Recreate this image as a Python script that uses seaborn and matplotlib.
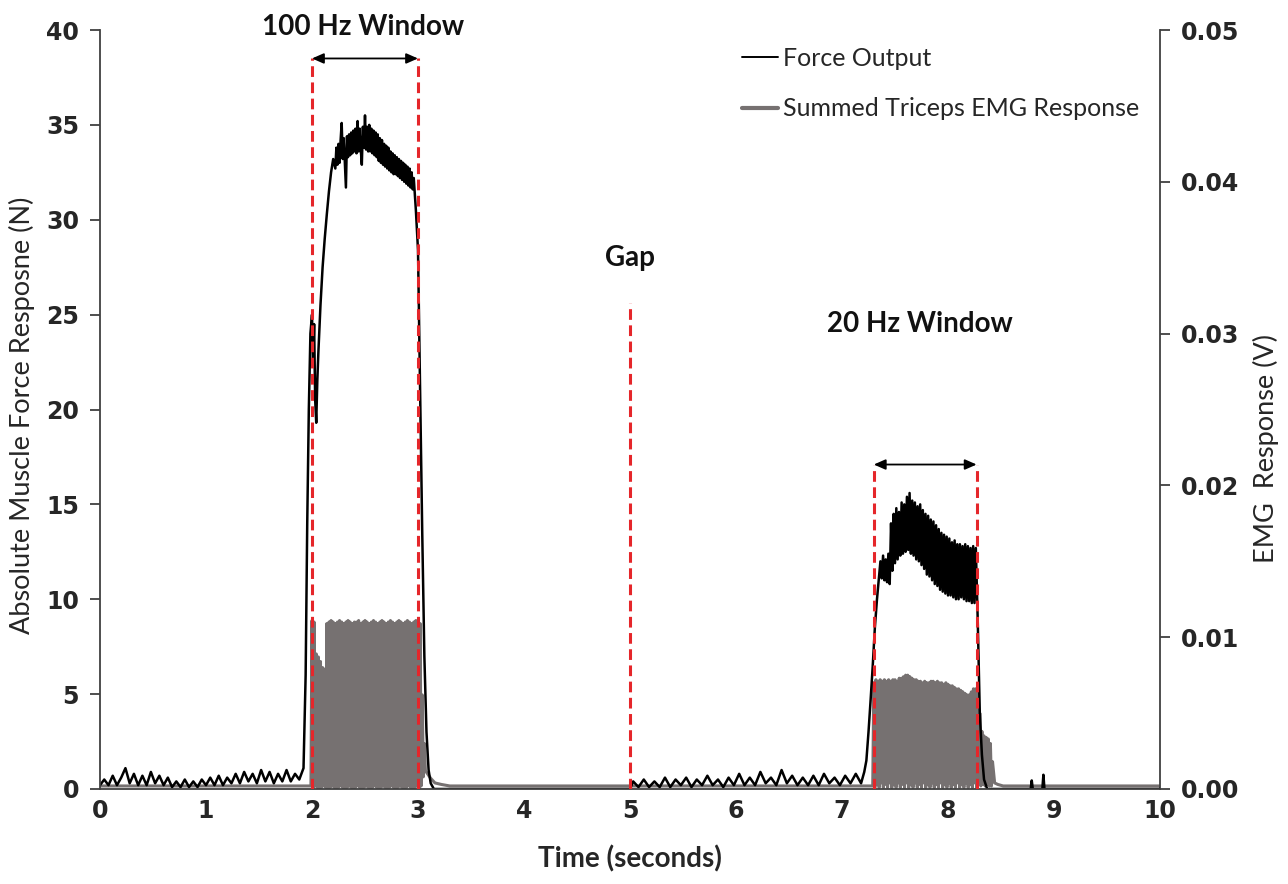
import matplotlib
matplotlib.use("Agg")
import matplotlib.pyplot as plt
import seaborn as sns
import pandas as pd
from matplotlib.lines import Line2D

# ------------------------------------------------------------------ data
# Force output (N) - rest before stimulation
force_t_rest1 = [0.00, 0.04, 0.08, 0.12, 0.16, 0.20, 0.24, 0.28, 0.32, 0.36,
                 0.40, 0.44, 0.48, 0.52, 0.56, 0.60, 0.64, 0.68, 0.72, 0.76,
                 0.80, 0.84, 0.88, 0.92, 0.96, 1.00, 1.04, 1.08, 1.12, 1.16,
                 1.20, 1.24, 1.28, 1.32, 1.36, 1.40, 1.44, 1.48, 1.52, 1.56,
                 1.60, 1.64, 1.68, 1.72, 1.76, 1.80, 1.84, 1.88, 1.92]
force_n_rest1 = [0.2, 0.5, 0.2, 0.7, 0.2, 0.6, 1.1, 0.3, 0.8, 0.2,
                 0.7, 0.2, 0.9, 0.3, 0.7, 0.2, 0.6, 0.1, 0.4, 0.1,
                 0.5, 0.1, 0.4, 0.1, 0.5, 0.2, 0.6, 0.2, 0.7, 0.2,
                 0.6, 0.3, 0.8, 0.3, 0.9, 0.4, 0.8, 0.3, 1.0, 0.4,
                 0.9, 0.3, 0.8, 0.4, 1.0, 0.4, 0.8, 0.5, 1.1]
# 100 Hz window: onset
force_t_100_on = [1.94, 1.955, 1.97, 1.985, 2.00, 2.01, 2.02, 2.03, 2.04, 2.05,
                  2.06, 2.08, 2.10, 2.12, 2.14, 2.16, 2.18, 2.20]
force_n_100_on = [6.0, 14.0, 20.0, 24.0, 25.0, 22.5, 24.5, 20.5, 19.3, 21.5,
                  23.0, 25.5, 27.5, 29.0, 30.3, 31.5, 32.5, 33.2]
# 100 Hz window: plateau
force_t_100 = [2.22, 2.23, 2.24, 2.25, 2.26, 2.27, 2.28, 2.29, 2.30, 2.31,
               2.32, 2.33, 2.34, 2.35, 2.36, 2.37, 2.38, 2.39, 2.40, 2.41,
               2.42, 2.43, 2.44, 2.45, 2.46, 2.47, 2.48, 2.49, 2.50, 2.51,
               2.52, 2.53, 2.54, 2.55, 2.56, 2.57, 2.58, 2.59, 2.60, 2.61,
               2.62, 2.63, 2.64, 2.65, 2.66, 2.67, 2.68, 2.69, 2.70, 2.71,
               2.72, 2.73, 2.74, 2.75, 2.76, 2.77, 2.78, 2.79, 2.80, 2.81,
               2.82, 2.83, 2.84, 2.85, 2.86, 2.87, 2.88, 2.89, 2.90, 2.91,
               2.92, 2.93, 2.94, 2.95, 2.96]
force_n_100 = [32.7, 33.8, 32.9, 34.0, 33.0, 34.2, 35.1, 33.2, 34.3, 33.0,
               31.7, 34.4, 33.3, 34.5, 33.4, 34.6, 33.5, 34.7, 33.6, 34.8,
               33.5, 35.2, 33.6, 34.8, 33.7, 32.9, 34.9, 33.8, 35.5, 33.7,
               34.9, 33.6, 35.0, 33.6, 34.8, 33.5, 34.7, 33.4, 34.6, 33.3,
               34.5, 33.1, 34.3, 33.0, 34.2, 32.9, 34.0, 32.8, 33.9, 32.7,
               33.8, 32.6, 33.6, 32.5, 33.5, 32.4, 33.4, 32.4, 33.3, 32.3,
               33.2, 32.2, 33.1, 32.1, 33.0, 32.0, 32.9, 31.9, 32.8, 31.8,
               32.7, 31.7, 32.5, 31.6, 32.2]
# 100 Hz window: offset
force_t_100_off = [2.98, 3.00, 3.02, 3.04, 3.06, 3.08, 3.10, 3.12, 3.15]
force_n_100_off = [30.5, 28.4, 21.0, 13.5, 7.0, 3.0, 1.0, 0.3, 0.0]
# gap and rest before the 20 Hz window
force_t_rest2 = [5.00, 5.03, 5.08, 5.13, 5.18, 5.23, 5.28, 5.33, 5.38, 5.43,
                 5.48, 5.53, 5.58, 5.63, 5.68, 5.73, 5.78, 5.83, 5.88, 5.93,
                 5.98, 6.03, 6.08, 6.13, 6.18, 6.23, 6.28, 6.33, 6.38, 6.43,
                 6.48, 6.53, 6.58, 6.63, 6.68, 6.73, 6.78, 6.83, 6.88, 6.93,
                 6.98, 7.03, 7.08, 7.13, 7.18, 7.21]
force_n_rest2 = [0.0, 0.4, 0.1, 0.5, 0.1, 0.4, 0.1, 0.6, 0.1, 0.5,
                 0.2, 0.6, 0.1, 0.5, 0.2, 0.7, 0.2, 0.5, 0.1, 0.6,
                 0.2, 0.8, 0.2, 0.6, 0.2, 0.9, 0.3, 0.6, 0.2, 1.0,
                 0.3, 0.7, 0.2, 0.6, 0.2, 0.7, 0.2, 0.8, 0.3, 0.6,
                 0.2, 0.7, 0.3, 0.8, 0.3, 0.9]
# 20 Hz window: onset
force_t_20_on = [7.23, 7.25, 7.27, 7.29, 7.31, 7.33]
force_n_20_on = [1.5, 3.0, 4.7, 6.5, 8.5, 10.0]
# 20 Hz window: oscillating plateau
force_t_20 = [7.3500, 7.3625, 7.3750, 7.3875, 7.4000, 7.4125, 7.4250, 7.4375, 7.4500, 7.4625,
              7.4750, 7.4875, 7.5000, 7.5125, 7.5250, 7.5375, 7.5500, 7.5625, 7.5750, 7.5875,
              7.6000, 7.6125, 7.6250, 7.6375, 7.6500, 7.6625, 7.6750, 7.6875, 7.7000, 7.7125,
              7.7250, 7.7375, 7.7500, 7.7625, 7.7750, 7.7875, 7.8000, 7.8125, 7.8250, 7.8375,
              7.8500, 7.8625, 7.8750, 7.8875, 7.9000, 7.9125, 7.9250, 7.9375, 7.9500, 7.9625,
              7.9750, 7.9875, 8.0000, 8.0125, 8.0250, 8.0375, 8.0500, 8.0625, 8.0750, 8.0875,
              8.1000, 8.1125, 8.1250, 8.1375, 8.1500, 8.1625, 8.1750, 8.1875, 8.2000, 8.2125,
              8.2250, 8.2375, 8.2500, 8.2625]
force_n_20 = [11.2, 12.0, 11.1, 12.3, 11.0, 12.1, 10.9, 12.4, 10.8, 14.0,
              11.5, 14.5, 11.9, 14.8, 12.1, 14.6, 12.3, 15.1, 12.4, 15.0,
              12.5, 15.4, 12.6, 15.6, 12.4, 15.2, 12.3, 15.1, 12.1, 14.9,
              12.0, 15.0, 11.8, 14.7, 11.6, 14.5, 11.3, 14.4, 11.2, 14.2,
              11.0, 14.1, 10.8, 13.9, 10.7, 13.7, 10.5, 13.5, 10.4, 13.4,
              10.3, 13.3, 10.2, 13.2, 10.2, 13.0, 10.1, 13.1, 10.0, 12.9,
              10.0, 12.9, 10.1, 12.8, 10.0, 12.9, 9.9, 12.8, 9.9, 12.7,
              9.8, 12.8, 9.8, 12.7]
# 20 Hz window: offset
force_t_20_off = [8.28, 8.29, 8.30, 8.32, 8.34, 8.37]
force_n_20_off = [9.0, 6.5, 4.0, 1.8, 0.5, 0.0]
# rest after stimulation
force_t_rest3 = [8.78, 8.79, 8.80, 8.89, 8.90, 8.91, 10.0]
force_n_rest3 = [0.0, 0.45, 0.0, 0.0, 0.75, 0.0, 0.0]

# Summed triceps EMG (V)
emg_t_rest = [0.00, 1.99, 3.05, 3.07, 3.09, 3.12, 3.16, 3.22, 3.30, 7.29,
              8.44, 8.47, 8.52, 10.0]
emg_v_rest = [0.0002, 0.0002, 0.0008, 0.0012, 0.0010, 0.0007, 0.0004, 0.0003, 0.0002, 0.0002,
              0.0004, 0.0003, 0.0002, 0.0002]
emg_t_100_peak = [2.00, 2.02, 2.04, 2.06, 2.08, 2.10, 2.12, 2.14, 2.16, 2.18,
                  2.20, 2.22, 2.24, 2.26, 2.28, 2.30, 2.32, 2.34, 2.36, 2.38,
                  2.40, 2.42, 2.44, 2.46, 2.48, 2.50, 2.52, 2.54, 2.56, 2.58,
                  2.60, 2.62, 2.64, 2.66, 2.68, 2.70, 2.72, 2.74, 2.76, 2.78,
                  2.80, 2.82, 2.84, 2.86, 2.88, 2.90, 2.92, 2.94, 2.96, 2.98,
                  3.00, 3.02, 3.04, 3.06]
emg_v_100_peak = [0.0111, 0.0110, 0.0089, 0.0087, 0.0084, 0.0080, 0.0079, 0.0109, 0.0110, 0.0111,
                  0.0110, 0.0109, 0.0110, 0.0111, 0.0110, 0.0109, 0.0110, 0.0111, 0.0110, 0.0109,
                  0.0110, 0.0110, 0.0111, 0.0109, 0.0110, 0.0111, 0.0110, 0.0109, 0.0110, 0.0111,
                  0.0110, 0.0109, 0.0110, 0.0111, 0.0110, 0.0109, 0.0110, 0.0111, 0.0110, 0.0109,
                  0.0110, 0.0111, 0.0110, 0.0109, 0.0110, 0.0111, 0.0110, 0.0109, 0.0110, 0.0111,
                  0.0110, 0.0109, 0.0062, 0.0030]
emg_t_100_low = [2.01, 2.03, 2.05, 2.07, 2.09, 2.11, 2.13, 2.15, 2.17, 2.19,
                 2.21, 2.23, 2.25, 2.27, 2.29, 2.31, 2.33, 2.35, 2.37, 2.39,
                 2.41, 2.43, 2.45, 2.47, 2.49, 2.51, 2.53, 2.55, 2.57, 2.59,
                 2.61, 2.63, 2.65, 2.67, 2.69, 2.71, 2.73, 2.75, 2.77, 2.79,
                 2.81, 2.83, 2.85, 2.87, 2.89, 2.91, 2.93, 2.95, 2.97, 2.99,
                 3.01, 3.03]
emg_v_100_low = [0.0001, 0.0002, 0.0001, 0.0000, 0.0001, 0.0002, 0.0001, 0.0000, 0.0001, 0.0002,
                 0.0001, 0.0000, 0.0001, 0.0002, 0.0001, 0.0000, 0.0001, 0.0002, 0.0001, 0.0000,
                 0.0001, 0.0002, 0.0001, 0.0000, 0.0001, 0.0002, 0.0001, 0.0000, 0.0001, 0.0002,
                 0.0001, 0.0000, 0.0001, 0.0002, 0.0001, 0.0000, 0.0001, 0.0002, 0.0001, 0.0000,
                 0.0001, 0.0002, 0.0001, 0.0000, 0.0001, 0.0002, 0.0001, 0.0000, 0.0001, 0.0002,
                 0.0001, 0.0002]
emg_t_20_peak = [7.30, 7.32, 7.34, 7.36, 7.38, 7.40, 7.42, 7.44, 7.46, 7.48,
                 7.50, 7.52, 7.54, 7.56, 7.58, 7.60, 7.62, 7.64, 7.66, 7.68,
                 7.70, 7.72, 7.74, 7.76, 7.78, 7.80, 7.82, 7.84, 7.86, 7.88,
                 7.90, 7.92, 7.94, 7.96, 7.98, 8.00, 8.02, 8.04, 8.06, 8.08,
                 8.10, 8.12, 8.14, 8.16, 8.18, 8.20, 8.22, 8.24, 8.26, 8.28,
                 8.30, 8.32, 8.34, 8.36, 8.38, 8.40, 8.42]
emg_v_20_peak = [0.0070, 0.0072, 0.0071, 0.0072, 0.0071, 0.0072, 0.0071, 0.0072, 0.0071, 0.0072,
                 0.0072, 0.0071, 0.0073, 0.0073, 0.0074, 0.0075, 0.0075, 0.0074, 0.0073, 0.0072,
                 0.0072, 0.0071, 0.0071, 0.0070, 0.0071, 0.0070, 0.0070, 0.0071, 0.0071, 0.0070,
                 0.0071, 0.0070, 0.0070, 0.0069, 0.0070, 0.0069, 0.0068, 0.0068, 0.0067, 0.0066,
                 0.0066, 0.0065, 0.0064, 0.0063, 0.0062, 0.0062, 0.0064, 0.0066, 0.0066, 0.0064,
                 0.0050, 0.0038, 0.0035, 0.0034, 0.0033, 0.0030, 0.0018]
emg_t_20_low = [7.31, 7.33, 7.35, 7.37, 7.39, 7.41, 7.43, 7.45, 7.47, 7.49,
                7.51, 7.53, 7.55, 7.57, 7.59, 7.61, 7.63, 7.65, 7.67, 7.69,
                7.71, 7.73, 7.75, 7.77, 7.79, 7.81, 7.83, 7.85, 7.87, 7.89,
                7.91, 7.93, 7.95, 7.97, 7.99, 8.01, 8.03, 8.05, 8.07, 8.09,
                8.11, 8.13, 8.15, 8.17, 8.19, 8.21, 8.23, 8.25, 8.27, 8.29,
                8.31, 8.33, 8.35, 8.37, 8.39, 8.41]
emg_v_20_low = [0.0001, 0.0003, 0.0001, 0.0004, 0.0001, 0.0003, 0.0001, 0.0004, 0.0001, 0.0003,
                0.0001, 0.0004, 0.0001, 0.0003, 0.0001, 0.0004, 0.0001, 0.0003, 0.0001, 0.0004,
                0.0001, 0.0003, 0.0001, 0.0004, 0.0001, 0.0003, 0.0001, 0.0004, 0.0001, 0.0003,
                0.0001, 0.0004, 0.0001, 0.0003, 0.0001, 0.0004, 0.0001, 0.0003, 0.0001, 0.0004,
                0.0001, 0.0003, 0.0001, 0.0004, 0.0001, 0.0003, 0.0001, 0.0004, 0.0001, 0.0003,
                0.0002, 0.0003, 0.0002, 0.0003, 0.0002, 0.0002]

# stimulation windows / annotation anchors
window_100hz = [2.0, 3.0]
window_20hz = [7.3, 8.27]
gap_time = 5.0
x_ticks = [0, 1, 2, 3, 4, 5, 6, 7, 8, 9, 10]
force_ticks = [0, 5, 10, 15, 20, 25, 30, 35, 40]
emg_ticks = [0.00, 0.01, 0.02, 0.03, 0.04, 0.05]

# ------------------------------------------------------------------ frames
force_df = pd.DataFrame({
    "time": (force_t_rest1 + force_t_100_on + force_t_100 + force_t_100_off
             + force_t_rest2 + force_t_20_on + force_t_20 + force_t_20_off + force_t_rest3),
    "force": (force_n_rest1 + force_n_100_on + force_n_100 + force_n_100_off
              + force_n_rest2 + force_n_20_on + force_n_20 + force_n_20_off + force_n_rest3),
}).sort_values("time")
emg_df = pd.DataFrame({
    "time": emg_t_rest + emg_t_100_peak + emg_t_100_low + emg_t_20_peak + emg_t_20_low,
    "emg": emg_v_rest + emg_v_100_peak + emg_v_100_low + emg_v_20_peak + emg_v_20_low,
}).sort_values("time")

# ------------------------------------------------------------------ style
sns.set_theme(style="ticks")
plt.rcParams["font.family"] = ["Lato", "DejaVu Sans"]

BLACK = "#000000"
GREY = "#767171"
RED = "#e5262a"
SPINE = "#404040"
TXT = "#262626"

fig = plt.figure(figsize=(12.88, 8.84), dpi=100)
ax = fig.add_axes([100 / 1288, 1 - 789 / 884, 1060 / 1288, 759 / 884])
ax2 = ax.twinx()

sns.lineplot(data=emg_df, x="time", y="emg", ax=ax2, color=GREY, lw=2.2,
             estimator=None, sort=False)
sns.lineplot(data=force_df, x="time", y="force", ax=ax, color=BLACK, lw=1.8,
             estimator=None, sort=False)

# put force axis above the EMG axis
ax.set_zorder(ax2.get_zorder() + 1)
ax.patch.set_visible(False)

ax.set_xlim(0, 10)
ax.set_ylim(0, 40)
ax2.set_ylim(0, 0.05)
ax.set_xticks(x_ticks)
ax.set_yticks(force_ticks)
ax2.set_yticks(emg_ticks)
ax2.set_yticklabels([f"{v:.2f}" for v in emg_ticks])

for lab in ax.get_xticklabels() + ax.get_yticklabels() + ax2.get_yticklabels():
    lab.set_fontfamily("DejaVu Sans")
    lab.set_fontweight("bold")
    lab.set_fontsize(17)
    lab.set_color(TXT)

ax.tick_params(axis="x", length=0, pad=7)
ax.tick_params(axis="y", direction="out", length=7, width=1.3, color=SPINE, pad=8)
ax2.tick_params(axis="y", direction="out", length=7, width=1.3, color=SPINE, pad=8)

for a in (ax, ax2):
    a.spines["top"].set_visible(False)
    for s in ("left", "right", "bottom"):
        a.spines[s].set_color(SPINE)
        a.spines[s].set_linewidth(1.3)
ax.spines["right"].set_visible(False)
ax2.spines["left"].set_visible(False)
ax2.spines["bottom"].set_visible(False)

ax.set_xlabel("Time (seconds)", fontsize=20, fontweight="bold", labelpad=16, color=TXT)
ax.set_ylabel("Absolute Muscle Force Resposne (N)", fontsize=19.5, color=TXT)
ax2.set_ylabel("EMG  Response (V)", fontsize=19.5, color=TXT)
ax.yaxis.set_label_coords(-0.061, 0.493)
ax2.yaxis.set_label_coords(1.088, 0.449)

# ------------------------------------------------------------------ annotations
dash_kw = dict(color=RED, lw=2.2, linestyle=(0, (3.5, 1.8)), zorder=5)
for x in window_100hz:
    ax.plot([x, x], [0, 38.5], **dash_kw)
for x in window_20hz:
    ax.plot([x, x], [0, 17.1], **dash_kw)
ax.plot([gap_time, gap_time], [0, 25.6], **dash_kw)

arrow_kw = dict(arrowstyle="<|-|>,head_length=0.5,head_width=0.22", color=BLACK,
                lw=1.3, shrinkA=0, shrinkB=0, mutation_scale=14)
ax.annotate("", xy=(window_100hz[0], 38.5), xytext=(window_100hz[1], 38.5),
            arrowprops=arrow_kw, annotation_clip=False, zorder=6)
ax.annotate("", xy=(window_20hz[0], 17.1), xytext=(window_20hz[1], 17.1),
            arrowprops=arrow_kw, zorder=6)

txt_kw = dict(ha="center", va="center", fontsize=20, fontweight="bold", color="#111111")
ax.text(sum(window_100hz) / 2 - 0.02, 40.15, "100 Hz Window", clip_on=False, **txt_kw)
ax.text(gap_time, 28.0, "Gap", **txt_kw)
ax.text(7.73, 24.5, "20 Hz Window", **txt_kw)

# ------------------------------------------------------------------ legend
handles = [Line2D([], [], color=BLACK, lw=1.4),
           Line2D([], [], color=GREY, lw=3.0)]
ax.legend(handles, ["Force Output", "Summed Triceps EMG Response"],
          loc="upper left", bbox_to_anchor=(742 / 1288, 1 - 47 / 884),
          bbox_transform=fig.transFigure, frameon=False, fontsize=18,
          handlelength=1.45, handletextpad=0.2, labelspacing=1.1,
          borderpad=0, borderaxespad=0, labelcolor=TXT)

fig.savefig("out.png", dpi=100)
